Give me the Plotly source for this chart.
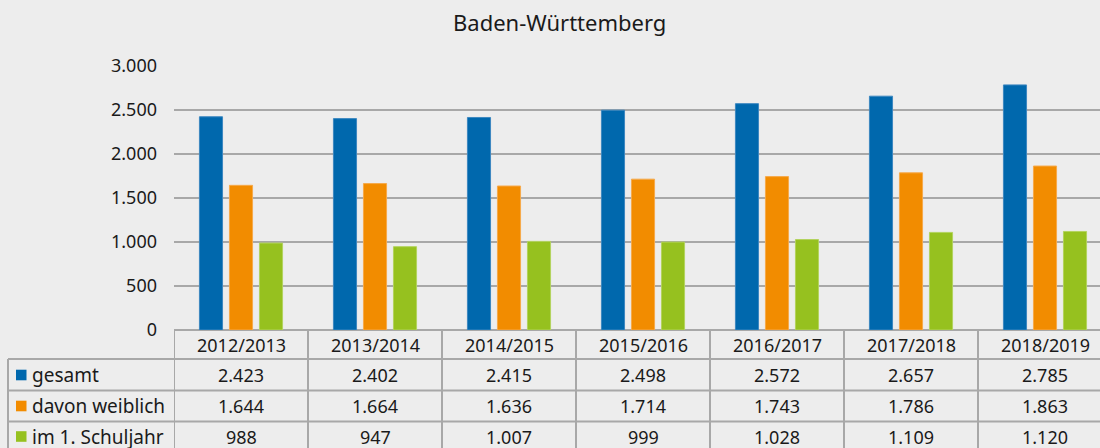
import plotly.graph_objects as go

# ---- data ----
title_text = "Baden-Württemberg"
categories = ["2012/2013", "2013/2014", "2014/2015", "2015/2016", "2016/2017", "2017/2018", "2018/2019"]
series_names = ["gesamt", "davon weiblich", "im 1. Schuljahr"]
gesamt = [2423, 2402, 2415, 2498, 2572, 2657, 2785]
weiblich = [1644, 1664, 1636, 1714, 1743, 1786, 1863]
schuljahr1 = [988, 947, 1007, 999, 1028, 1109, 1120]
tick_values = [0, 500, 1000, 1500, 2000, 2500, 3000]
tick_labels = ["0", "500", "1.000", "1.500", "2.000", "2.500", "3.000"]

series_values = [gesamt, weiblich, schuljahr1]
colors = ["#0068ad", "#f28c00", "#96c11f"]
outline = ["#3d88c0", "#f6a94a", "#b3d35e"]

W, H = 1100, 448
L, R, T, B = 174, 0, 66, 118
PW = W - L - R
PH = H - T - B
FONT = "Noto Sans"
GRID = "#a8a8a8"
BG = "#ededed"
TXT = "#1a1a1a"

def px_x(px):
    return (px - L) / PW

def px_y(py):
    return (T + PH - py) / PH

fig = go.Figure()
xs = list(range(len(categories)))
for name, vals, c, oc in zip(series_names, series_values, colors, outline):
    fig.add_trace(go.Bar(x=xs, y=vals, name=name, marker=dict(color=c, line=dict(color=oc, width=1)),
                         hoverinfo="y+name"))

n = len(categories)
col_px = 134.0
x_end = -0.5 + PW / col_px

shapes = []
# table row lines (full width from left border)
row_lines = [359, 390.5, 421.5, 452]
for ry in row_lines:
    shapes.append(dict(type="line", xref="paper", yref="paper", x0=px_x(8), x1=1.0,
                       y0=px_y(ry), y1=px_y(ry), line=dict(color=GRID, width=2), layer="above"))
# left border of row label column
shapes.append(dict(type="line", xref="paper", yref="paper", x0=px_x(8), x1=px_x(8),
                   y0=px_y(359), y1=px_y(460), line=dict(color=GRID, width=2)))
# column separators
for k in range(n):
    xk = k - 0.5
    shapes.append(dict(type="line", xref="x", yref="paper", x0=xk, x1=xk,
                       y0=0, y1=px_y(460), line=dict(color=GRID, width=2)))

annotations = []
# title
annotations.append(dict(text=title_text, xref="paper", yref="paper", x=px_x(559), y=px_y(22),
                        showarrow=False, xanchor="center", yanchor="middle",
                        font=dict(family=FONT, size=22, color=TXT)))
# header row
for i, cat in enumerate(categories):
    annotations.append(dict(text=cat, xref="x", yref="paper", x=i, y=px_y(345),
                            showarrow=False, xanchor="center", yanchor="middle",
                            font=dict(family=FONT, size=18, color=TXT)))
row_centers = [375, 406, 436.5]
def fmt(v):
    return f"{v:,}".replace(",", ".")
for r, (name, vals, c) in enumerate(zip(series_names, series_values, colors)):
    yc = px_y(row_centers[r])
    shapes.append(dict(type="rect", xref="paper", yref="paper", x0=px_x(16), x1=px_x(26.5),
                       y0=px_y(row_centers[r] + 5.3), y1=px_y(row_centers[r] - 5.3),
                       fillcolor=c, line=dict(width=0)))
    annotations.append(dict(text=name, xref="paper", yref="paper", x=px_x(30), y=yc,
                            showarrow=False, xanchor="left", yanchor="middle",
                            font=dict(family=FONT, size=19, color=TXT)))
    for i, v in enumerate(vals):
        annotations.append(dict(text=fmt(v), xref="x", yref="paper", x=i, y=yc,
                                showarrow=False, xanchor="center", yanchor="middle",
                                font=dict(family=FONT, size=18, color=TXT)))

fig.update_layout(
    width=W, height=H,
    margin=dict(l=L, r=R, t=T, b=B, pad=0),
    paper_bgcolor=BG, plot_bgcolor=BG,
    barmode="group", bargap=0.328, bargroupgap=0.23,
    showlegend=False,
    separators=",.",
    shapes=shapes, annotations=annotations,
    xaxis=dict(range=[-0.5, x_end], showticklabels=False, showgrid=False, zeroline=False,
               showline=False, ticks="", fixedrange=True),
    yaxis=dict(range=[0, 3000], tickvals=tick_values, ticktext=tick_labels,
               showgrid=True, gridcolor=GRID, gridwidth=2, zeroline=True, zerolinecolor=GRID,
               zerolinewidth=2, showline=False, ticks="", ticklabelstandoff=16,
               tickfont=dict(family=FONT, size=18, color=TXT)),
)

fig.write_html("out.html", config={"displayModeBar": False},
               post_script="document.body.style.margin='0';document.body.style.overflow='hidden';")
